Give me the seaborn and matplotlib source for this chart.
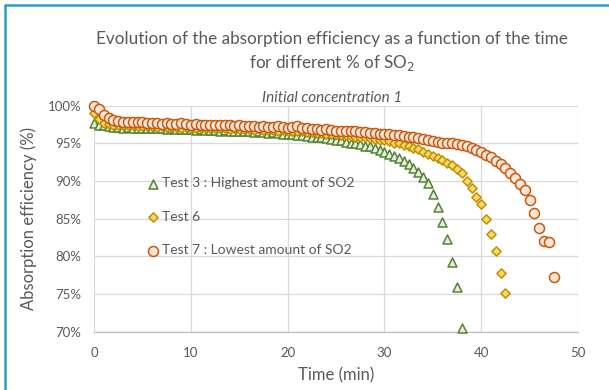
import numpy as np
import pandas as pd
import matplotlib
matplotlib.use("Agg")
import matplotlib.pyplot as plt
import seaborn as sns
from matplotlib.lines import Line2D
from matplotlib.ticker import FuncFormatter, MultipleLocator

# -----------------------------
# DATA (efficiency in %, one reading every 0.5 min)
# -----------------------------
TIME = [
    0.0, 0.5, 1.0, 1.5, 2.0, 2.5, 3.0, 3.5, 4.0, 4.5,
    5.0, 5.5, 6.0, 6.5, 7.0, 7.5, 8.0, 8.5, 9.0, 9.5,
    10.0, 10.5, 11.0, 11.5, 12.0, 12.5, 13.0, 13.5, 14.0, 14.5,
    15.0, 15.5, 16.0, 16.5, 17.0, 17.5, 18.0, 18.5, 19.0, 19.5,
    20.0, 20.5, 21.0, 21.5, 22.0, 22.5, 23.0, 23.5, 24.0, 24.5,
    25.0, 25.5, 26.0, 26.5, 27.0, 27.5, 28.0, 28.5, 29.0, 29.5,
    30.0, 30.5, 31.0, 31.5, 32.0, 32.5, 33.0, 33.5, 34.0, 34.5,
    35.0, 35.5, 36.0, 36.5, 37.0, 37.5, 38.0, 38.5, 39.0, 39.5,
    40.0, 40.5, 41.0, 41.5, 42.0, 42.5, 43.0, 43.5, 44.0, 44.5,
    45.0, 45.5, 46.0, 46.5, 47.0, 47.5,
]

TEST3 = [
    97.7, 97.5, 97.4, 97.3, 97.2, 97.2, 97.1, 97.2, 97.1, 97.1,
    97.0, 97.1, 97.0, 97.0, 97.0, 96.9, 97.0, 96.9, 96.9, 96.9,
    96.9, 96.8, 96.9, 96.8, 96.8, 96.8, 96.7, 96.8, 96.7, 96.7,
    96.6, 96.6, 96.6, 96.5, 96.6, 96.5, 96.4, 96.5, 96.4, 96.3,
    96.3, 96.2, 96.1, 96.1, 96.0, 95.9, 95.9, 95.8, 95.7, 95.6,
    95.5, 95.4, 95.2, 95.1, 95.0, 94.9, 94.7, 94.6, 94.4, 94.1,
    93.9, 93.6, 93.3, 93.0, 92.6, 92.2, 91.7, 91.2, 90.6, 89.8,
    88.3, 86.5, 84.6, 82.3, 79.3, 75.9, 70.5,
]

TEST6 = [
    99.0, 98.2, 97.7, 97.6, 97.5, 97.5, 97.4, 97.4, 97.4, 97.3,
    97.3, 97.3, 97.3, 97.2, 97.3, 97.2, 97.2, 97.2, 97.1, 97.2,
    97.1, 97.1, 97.1, 97.0, 97.1, 97.0, 97.0, 97.0, 96.9, 97.0,
    96.9, 96.9, 96.9, 96.8, 96.9, 96.8, 96.8, 96.8, 96.7, 96.8,
    96.7, 96.7, 96.6, 96.6, 96.5, 96.5, 96.4, 96.4, 96.3, 96.3,
    96.2, 96.1, 96.1, 96.0, 95.9, 95.9, 95.8, 95.7, 95.6, 95.5,
    95.4, 95.3, 95.1, 95.0, 94.8, 94.6, 94.4, 94.2, 93.9, 93.6,
    93.3, 93.1, 92.8, 92.4, 92.1, 91.6, 91.0, 90.0, 89.1, 87.9,
    86.9, 85.0, 83.0, 80.7, 77.8, 75.2,
]

TEST7 = [
    100.0, 99.6, 98.7, 98.3, 98.1, 98.0, 97.9, 97.9, 97.8, 97.8,
    97.8, 97.7, 97.7, 97.7, 97.6, 97.7, 97.6, 97.6, 97.7, 97.6,
    97.5, 97.6, 97.5, 97.5, 97.5, 97.4, 97.5, 97.4, 97.4, 97.3,
    97.4, 97.3, 97.3, 97.3, 97.2, 97.3, 97.2, 97.2, 97.3, 97.2,
    97.1, 97.2, 97.3, 97.0, 97.0, 96.9, 96.9, 96.8, 96.9, 96.8,
    96.7, 96.7, 96.6, 96.7, 96.6, 96.5, 96.5, 96.4, 96.4, 96.3,
    96.3, 96.2, 96.1, 96.1, 96.0, 95.9, 95.8, 95.7, 95.6, 95.5,
    95.3, 95.2, 95.1, 95.1, 95.0, 94.9, 94.8, 94.7, 94.4, 94.1,
    93.8, 93.5, 93.2, 92.6, 92.2, 91.7, 91.1, 90.4, 89.6, 88.8,
    87.5, 85.8, 83.8, 82.1, 81.9, 77.3,
]

LABELS = [
    "Test 3 : Highest amount of SO2",
    "Test 6",
    "Test 7 : Lowest amount of SO2",
]

# -----------------------------
# STYLE
# -----------------------------
sns.set_theme(style="white")
plt.rcParams["font.family"] = ["Lato", "DejaVu Sans"]
GREY = "#595959"

fig = plt.figure(figsize=(6.09, 3.90), dpi=100)
ax = fig.add_axes([0.1544, 0.1495, 0.7947, 0.5795])

series = [
    (TEST3, "^", "#E2F0D9", "#548235", 42),
    (TEST6, "D", "#FFD966", "#BF9000", 22),
    (TEST7, "o", "#FBE5D6", "#C55A11", 52),
]
for (vals, mk, fc, ec, size), lab in zip(series, LABELS):
    df = pd.DataFrame({"time": TIME[:len(vals)], "eff": vals})
    sns.scatterplot(data=df, x="time", y="eff", marker=mk, s=size,
                    color=fc, edgecolor=ec, linewidth=1.1, label=lab,
                    ax=ax, clip_on=False, zorder=3)

ax.set_xlim(0, 50)
ax.set_ylim(70, 100)
ax.xaxis.set_major_locator(MultipleLocator(10))
ax.yaxis.set_major_locator(MultipleLocator(5))
ax.yaxis.set_major_formatter(FuncFormatter(lambda v, p: f"{v:.0f}%"))
ax.grid(True, color="#D9D9D9", linewidth=0.9)
ax.set_axisbelow(True)
for side in ["top", "right", "left"]:
    ax.spines[side].set_visible(False)
ax.spines["bottom"].set_color("#BFBFBF")
ax.spines["bottom"].set_linewidth(0.9)
ax.tick_params(axis="both", length=0, labelsize=9.5, labelcolor=GREY)
ax.tick_params(axis="x", pad=11)
ax.tick_params(axis="y", pad=9)

ax.set_xlabel("Time (min)", fontsize=12, color=GREY, labelpad=6)
ax.set_ylabel("Absorption efficiency (%)", fontsize=12, color=GREY, labelpad=8)

leg = ax.legend(loc="upper left", bbox_to_anchor=(0.11, 0.683), frameon=False,
                fontsize=10, labelspacing=1.55, handlelength=0.8,
                handletextpad=0.25, borderpad=0, borderaxespad=0)
for t in leg.get_texts():
    t.set_color(GREY)

# titles
cx = 0.545
fig.text(cx, 0.900, "Evolution of the absorption efficiency as a function of the time",
         ha="center", va="center", fontsize=12.3, color=GREY)
fig.text(cx, 0.838, "for different % of SO$_2$", ha="center", va="center",
         fontsize=12.3, color=GREY)
fig.text(cx, 0.748, "Initial concentration 1", ha="center", va="center",
         fontsize=11, color=GREY, style="italic")

# blue frame (top and left edges)
frame_kw = dict(color="#2E9CCA", linewidth=1.8, transform=fig.transFigure)
fig.add_artist(Line2D([0.009, 1.0], [0.987, 0.987], **frame_kw))
fig.add_artist(Line2D([0.009, 0.009], [0.0, 0.987], **frame_kw))

fig.savefig("out.png", dpi=100)
